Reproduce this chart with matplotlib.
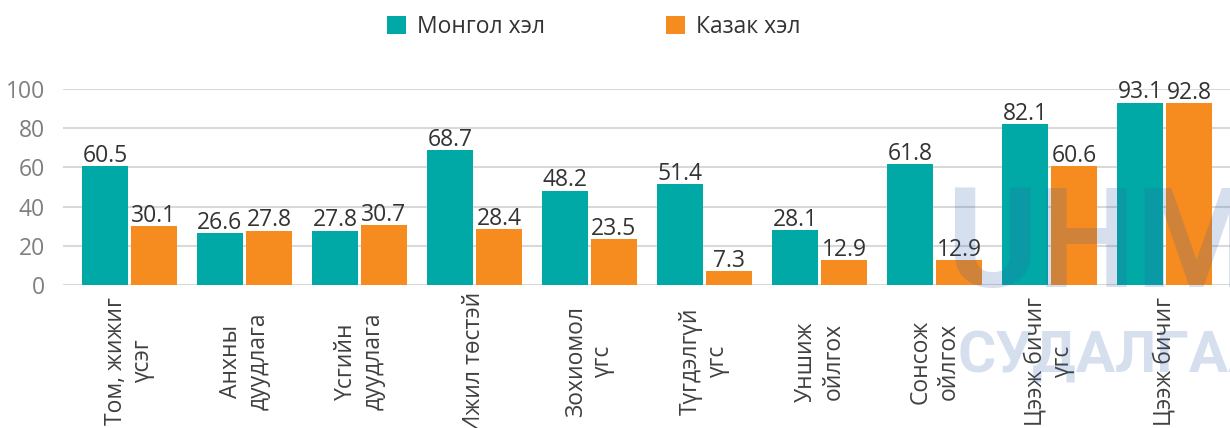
#!/usr/bin/python3
"""
Grouped bar chart: Mongolian vs Kazakh language results.
"""
import matplotlib.pyplot as plt
import numpy as np

categories = [
    "Том, жижиг\nүсэг",
    "Анхны\nдуудлага",
    "Үсгийн\nдуудлага",
    "Ижил төстэй",
    "Зохиомол\nүгс",
    "Түгдэлгүй\nүгс",
    "Уншиж\nойлгох",
    "Сонсож\nойлгох",
    "Цээж бичиг\nүгс",
    "Цээж бичиг",
]
mongol = [60.5, 26.6, 27.8, 68.7, 48.2, 51.4, 28.1, 61.8, 82.1, 93.1]
kazakh = [30.1, 27.8, 30.7, 28.4, 23.5, 7.3, 12.9, 12.9, 60.6, 92.8]
series_names = ["Монгол хэл", "Казак хэл"]
yticks = [0, 20, 40, 60, 80, 100]

TEAL = "#00A9A5"
ORANGE = "#F68B1F"
FS = 16.5

plt.rcParams['font.family'] = ['Open Sans', 'DejaVu Sans']

fig = plt.figure(figsize=(12.3, 4.28), dpi=100)
ax = fig.add_axes([63 / 1230, 1 - 285 / 428, 1 - 63 / 1230, 196 / 428])

x = np.arange(len(categories))
w = 0.4
off = 0.213
b1 = ax.bar(x - off, mongol, w, color=TEAL, label=series_names[0], zorder=2)
b2 = ax.bar(x + off, kazakh, w, color=ORANGE, label=series_names[1], zorder=2)

for bars, vals in ((b1, mongol), (b2, kazakh)):
    for rect, v in zip(bars, vals):
        ax.annotate('{:.1f}'.format(v),
                    (rect.get_x() + rect.get_width() / 2, rect.get_height()),
                    xytext=(0, 3), textcoords='offset points',
                    ha='center', va='baseline', fontsize=FS,
                    color='#333333', annotation_clip=False)

ax.set_xlim(-0.578, 9.57)
ax.set_ylim(0, 100)
ax.set_yticks(yticks)
ax.grid(axis='y', color='#D9D9D9', linewidth=1.5, zorder=0)
ax.set_axisbelow(True)
for s in ax.spines.values():
    s.set_visible(False)
ax.tick_params(axis='y', length=0, pad=13, labelsize=FS, labelcolor='#7F7F7F')
ax.set_xticks(x)
ax.set_xticklabels(categories, rotation=90, ha='center', va='center',
                   multialignment='center', linespacing=1.2)
ax.tick_params(axis='x', length=0, pad=55, labelsize=FS, labelcolor='#404040')

# faint watermark on the right side
wm_font = ['Liberation Sans Narrow', 'Roboto']
fig.text(946 / 1230, 1 - 287 / 428, "UHM", fontsize=100, fontweight='bold',
         family=wm_font, color='#2E5FA8', alpha=0.2, ha='left', va='baseline',
         zorder=5)
fig.text(958 / 1230, 1 - 372 / 428, "СУДАЛГААНЫ", fontsize=42,
         fontweight='bold', family=wm_font, color='#2E5FA8', alpha=0.2,
         ha='left', va='baseline', zorder=5)

fig.legend(handles=[b1, b2], loc='center', bbox_to_anchor=(594 / 1230, 1 - 27 / 428),
           ncol=2, frameon=False, fontsize=FS, handlelength=0.8,
           handleheight=0.8, handletextpad=0.5, columnspacing=5.3,
           labelcolor='#333333')

fig.savefig('out.png', dpi=100)
